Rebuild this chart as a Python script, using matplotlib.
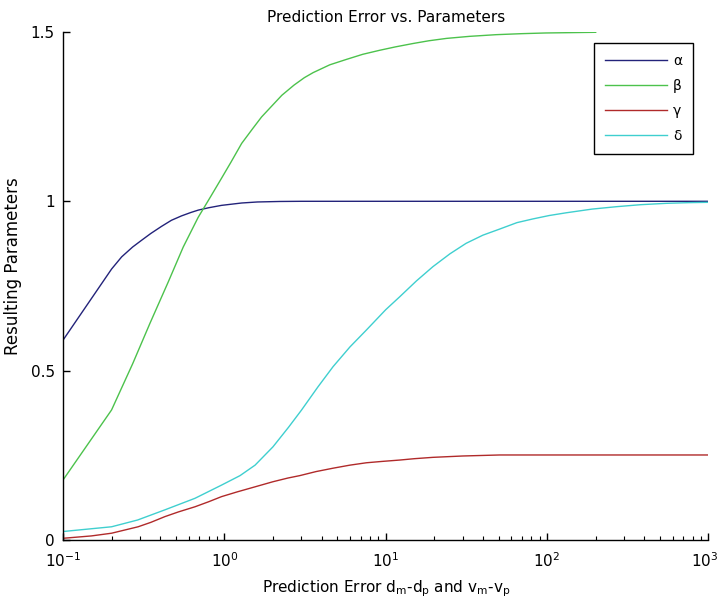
import matplotlib
matplotlib.use("Agg")
import matplotlib.pyplot as plt
import matplotlib.transforms as mtransforms
from matplotlib.ticker import LogLocator, FixedLocator, NullFormatter

# ---- data ----
x_alpha = [0.1, 0.2, 0.231, 0.27, 0.307, 0.35, 0.408, 0.47, 0.543, 0.62, 0.689,
           0.8, 0.96, 1.28, 1.6, 2.2, 3, 1000]
alpha = [0.59, 0.80, 0.836, 0.865, 0.885, 0.905, 0.926, 0.944, 0.957, 0.967,
         0.974, 0.981, 0.988, 0.995, 0.998, 0.9995, 1.0, 1.0]

x_beta = [0.1, 0.2, 0.27, 0.346, 0.45, 0.556, 0.687, 0.82, 0.96, 1.1, 1.28, 1.5,
          1.7, 2.0, 2.27, 2.7, 3.13, 3.55, 4.5, 5.71, 7.2, 9.19, 11.5, 14.8, 18.5,
          23.8, 33, 48.4, 70, 98, 140, 200]
beta = [0.177, 0.384, 0.52, 0.640, 0.763, 0.865, 0.952, 1.013, 1.068, 1.116,
        1.171, 1.215, 1.249, 1.285, 1.313, 1.343, 1.365, 1.38, 1.403, 1.419,
        1.434, 1.446, 1.456, 1.466, 1.474, 1.481, 1.487, 1.492, 1.495, 1.497,
        1.498, 1.499]

x_gamma = [0.1, 0.15, 0.2, 0.292, 0.35, 0.428, 0.52, 0.657, 0.8, 0.96, 1.2, 1.55,
           2.0, 2.48, 2.93, 3.7, 4.72, 6.0, 7.59, 9.5, 12.2, 15, 19.6, 30, 50.8,
           1000]
gamma = [0.005, 0.012, 0.02, 0.039, 0.052, 0.069, 0.083, 0.098, 0.113, 0.128,
         0.142, 0.157, 0.172, 0.183, 0.190, 0.202, 0.212, 0.221, 0.228, 0.232,
         0.236, 0.240, 0.244, 0.248, 0.251, 0.251]

x_delta = [0.1, 0.2, 0.29, 0.428, 0.657, 0.96, 1.25, 1.55, 2.0, 2.5, 3.0, 3.8,
           4.72, 6.0, 7.59, 10, 12.2, 15.5, 19.6, 25, 31.5, 40, 50.8, 65, 81.7,
           103, 131, 190, 268, 380, 547, 750, 1000]
delta = [0.025, 0.039, 0.059, 0.089, 0.123, 0.162, 0.19, 0.221, 0.275, 0.333,
         0.383, 0.452, 0.512, 0.57, 0.620, 0.68, 0.718, 0.765, 0.807, 0.845, 0.876,
         0.90, 0.918, 0.937, 0.948, 0.958, 0.966, 0.977, 0.984, 0.990, 0.994,
         0.996, 0.997]

labels = ["\u03b1", "\u03b2", "\u03b3", "\u03b4"]
colors = ["#23237a", "#4cc24c", "#b02a2a", "#3fcfcf"]
yticks = [0, 0.5, 1, 1.5]
ytick_labels = ["0", "0.5", "1", "1.5"]

plt.rcParams["font.family"] = ["DejaVu Sans"]

fig = plt.figure(figsize=(7.2, 6.03), dpi=100)
ax = fig.add_axes([0.0875, 0.1045, 0.8965, 0.8425])

ax.plot(x_alpha, alpha, color=colors[0], lw=1.0, label=labels[0])
ax.plot(x_beta, beta, color=colors[1], lw=1.0, label=labels[1])
ax.plot(x_gamma, gamma, color=colors[2], lw=1.0, label=labels[2])
ax.plot(x_delta, delta, color=colors[3], lw=1.0, label=labels[3])

ax.set_xscale("log")
ax.set_xlim(0.1, 1000)
ax.set_ylim(0, 1.5)
ax.yaxis.set_major_locator(FixedLocator(yticks))
ax.set_yticklabels(ytick_labels)
ax.xaxis.set_major_locator(LogLocator(base=10, numticks=10))
ax.xaxis.set_minor_locator(LogLocator(base=10, subs=range(2, 10), numticks=20))
ax.xaxis.set_minor_formatter(NullFormatter())

for s in ["top", "right"]:
    ax.spines[s].set_visible(False)
for s in ["left", "bottom"]:
    ax.spines[s].set_linewidth(1.0)
    ax.spines[s].set_color("black")

ax.tick_params(axis="both", which="major", direction="in", length=5, width=1,
               labelsize=11, color="black")
ax.tick_params(axis="x", which="minor", direction="in", length=3, width=0.8)
ax.tick_params(axis="x", which="major", pad=8)
ax.tick_params(axis="y", which="major", pad=6)

ax.set_title("Prediction Error vs. Parameters", fontsize=11, pad=7)
ax.set_xlabel(r"Prediction Error $\mathregular{d_m}$-$\mathregular{d_p}$ and "
              r"$\mathregular{v_m}$-$\mathregular{v_p}$", fontsize=11, labelpad=6)
ax.set_ylabel("Resulting Parameters", fontsize=12)
ax.yaxis.set_label_coords(-0.0635, 0.54)

leg = ax.legend(loc="upper right", bbox_to_anchor=(0.976, 0.979), fontsize=10,
                handlelength=4.5, labelspacing=0.8, borderpad=0.8,
                borderaxespad=0, handletextpad=0.4, fancybox=False,
                framealpha=1, edgecolor="black")
leg.get_frame().set_linewidth(1.0)

# keep the last x tick label inside the figure
fig.canvas.draw()
xlabels = ax.get_xticklabels()
shift = mtransforms.ScaledTranslation(-4 / 100, 0, fig.dpi_scale_trans)
for lab in xlabels:
    if lab.get_text() and "3" in lab.get_text():
        lab.set_transform(lab.get_transform() + shift)

fig.savefig("out.png", dpi=100)
